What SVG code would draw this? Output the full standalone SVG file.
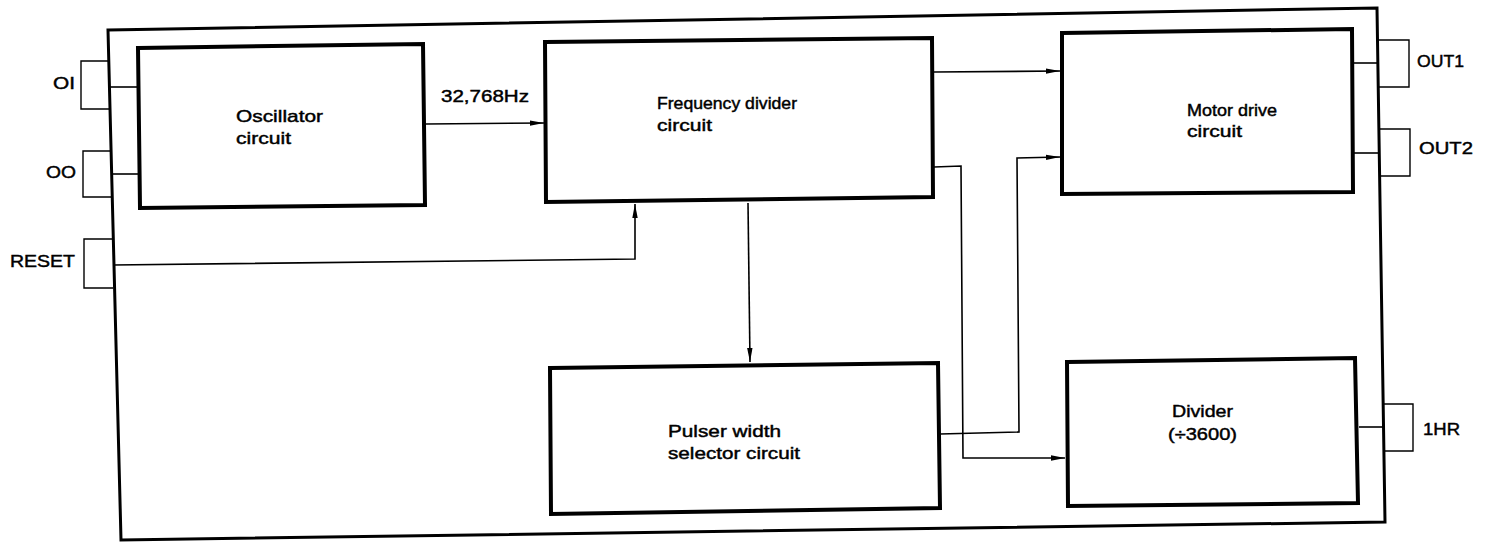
<svg xmlns="http://www.w3.org/2000/svg" width="1489" height="542" viewBox="0 0 1489 542">
<style>
  .blk{fill:#fff;stroke:#000;stroke-width:4;stroke-linejoin:miter}
  .outer{fill:#fff;stroke:#000;stroke-width:3}
  .pin{fill:none;stroke:#000;stroke-width:1.4}
  .wire{fill:none;stroke:#000;stroke-width:1.6}
  .arr{fill:none;stroke:#000;stroke-width:1.6;marker-end:url(#ah)}
  text{font-family:"Liberation Sans",Arial,sans-serif;font-size:17px;fill:#000;stroke:#000;stroke-width:0.45}
</style>
<defs>
  <marker id="ah" viewBox="0 0 14 7" refX="14" refY="3.5" markerWidth="14" markerHeight="7" markerUnits="userSpaceOnUse" orient="auto">
    <path d="M0,0.8 L14,3.5 L0,6.2 Z" fill="#000"/>
  </marker>
</defs>
<rect width="1489" height="542" fill="#fff"/>
<g id="chip">
  <polygon class="outer" points="108,30 1377,8 1385,522 121,540"/>
</g>
<g id="pins">
  <g id="pin-OI"><path class="pin" d="M110,61 H81 V109 H111"/><text x="53" y="89" textLength="22" lengthAdjust="spacingAndGlyphs">OI</text></g>
  <g id="pin-OO"><path class="pin" d="M111,151 H83 V197 H112"/><text x="46" y="178" textLength="30" lengthAdjust="spacingAndGlyphs">OO</text></g>
  <g id="pin-RESET"><path class="pin" d="M112,239 H84 V288 H113"/><text x="10" y="267" textLength="65" lengthAdjust="spacingAndGlyphs">RESET</text></g>
  <g id="pin-OUT1"><path class="pin" d="M1377,40 H1409 V87 H1378"/><text x="1417" y="67" textLength="47" lengthAdjust="spacingAndGlyphs">OUT1</text></g>
  <g id="pin-OUT2"><path class="pin" d="M1379,129 H1410 V176 H1380"/><text x="1419" y="154" textLength="54" lengthAdjust="spacingAndGlyphs">OUT2</text></g>
  <g id="pin-1HR"><path class="pin" d="M1383,404 H1413 V451 H1384"/><text x="1423" y="435" textLength="37" lengthAdjust="spacingAndGlyphs">1HR</text></g>
</g>
<g id="oscillator">
  <polygon class="blk" points="138,48 423,44 425,205 140,208"/>
  <text x="236" y="122" textLength="87" lengthAdjust="spacingAndGlyphs">Oscillator</text>
  <text x="236" y="144" textLength="55" lengthAdjust="spacingAndGlyphs">circuit</text>
</g>
<g id="freq-divider">
  <polygon class="blk" points="545,42 932,38 933,197 546,202"/>
  <text x="657" y="109" textLength="140" lengthAdjust="spacingAndGlyphs">Frequency divider</text>
  <text x="657" y="131" textLength="55" lengthAdjust="spacingAndGlyphs">circuit</text>
</g>
<g id="motor-drive">
  <polygon class="blk" points="1062,33 1352,29 1353,192 1062,194"/>
  <text x="1187" y="116" textLength="90" lengthAdjust="spacingAndGlyphs">Motor drive</text>
  <text x="1187" y="137" textLength="55" lengthAdjust="spacingAndGlyphs">circuit</text>
</g>
<g id="pulser">
  <polygon class="blk" points="550,368 938,363 940,508 551,514"/>
  <text x="668" y="437" textLength="113" lengthAdjust="spacingAndGlyphs">Pulser width</text>
  <text x="668" y="459" textLength="132" lengthAdjust="spacingAndGlyphs">selector circuit</text>
</g>
<g id="divider">
  <polygon class="blk" points="1067,362 1355,358 1358,503 1068,506"/>
  <text x="1172" y="417" textLength="61" lengthAdjust="spacingAndGlyphs">Divider</text>
  <text x="1168" y="440" textLength="69" lengthAdjust="spacingAndGlyphs">(÷3600)</text>
</g>
<g id="connectors">
  <path class="wire" d="M110,87 H139"/>
  <path class="wire" d="M111,174 H140"/>
  <path class="arr" d="M113,265 L635,259 L635,204"/>
  <path class="arr" d="M426,124 L544,123"/>
  <text x="441" y="102" textLength="88" lengthAdjust="spacingAndGlyphs">32,768Hz</text>
  <path class="arr" d="M934,72 L1060,71"/>
  <path class="arr" d="M748,203 L750,362"/>
  <path class="arr" d="M934,167 L961,166 L963,458 L1065,458"/>
  <path class="arr" d="M940,434 L1019,432 L1017,158 L1060,157"/>
  <path class="wire" d="M1354,63 H1378"/>
  <path class="wire" d="M1354,153 H1380"/>
  <path class="wire" d="M1359,427 H1383"/>
</g>
</svg>
